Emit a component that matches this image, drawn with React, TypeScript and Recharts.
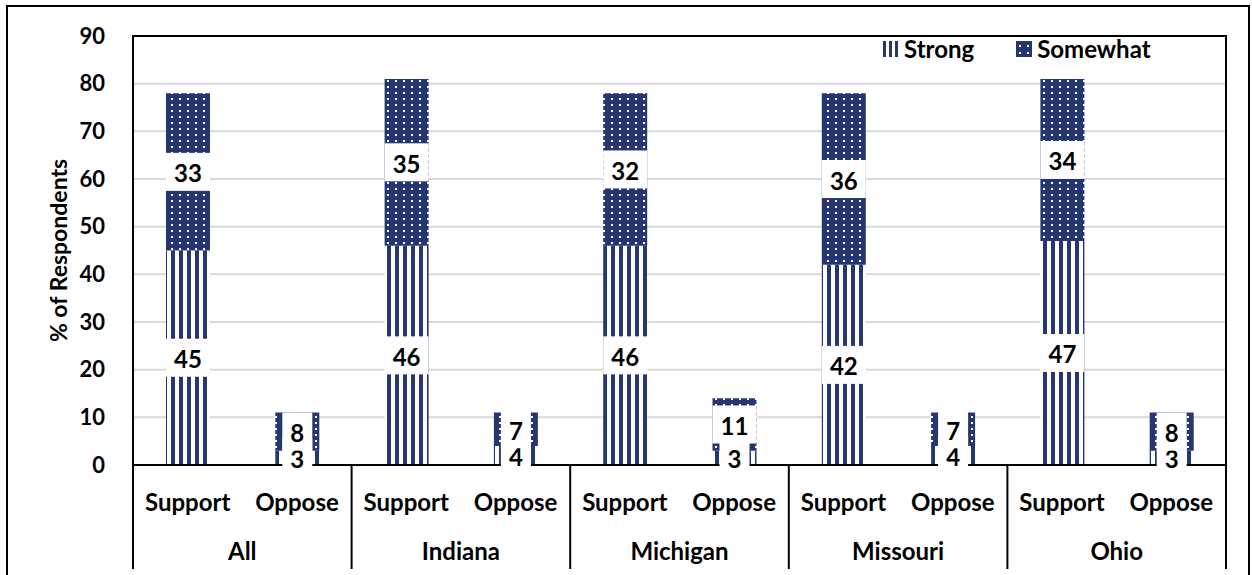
import {
  BarChart,
  Bar,
  XAxis,
  YAxis,
  CartesianGrid,
  Legend,
  LabelList,
  ReferenceArea,
} from "recharts";

const groups = ["All", "Indiana", "Michigan", "Missouri", "Ohio"];
const stances = ["Support", "Oppose"];
const strongPct = [45, 3, 46, 4, 46, 3, 42, 4, 47, 3];
const somewhatPct = [33, 8, 35, 7, 32, 11, 36, 7, 34, 8];
const yTicks = [0, 10, 20, 30, 40, 50, 60, 70, 80, 90];

const NAVY = "#263672";
const FONT = "Lato, 'Open Sans', sans-serif";

const rows = groups.flatMap((group, gi) =>
  stances.map((stance, si) => ({
    key: `${group}-${stance}`,
    group,
    stance,
    strong: strongPct[gi * 2 + si],
    somewhat: somewhatPct[gi * 2 + si],
  }))
);

const CHART_W = 1252;
const CHART_H = 575;
const MARGIN = { top: 36, right: 26, bottom: 5, left: 0 };
const Y_AXIS_W = 133;
const X_AXIS_H = 105;
const BAND = (CHART_W - MARGIN.left - MARGIN.right - Y_AXIS_W) / rows.length;

// two-row category axis: stance on top, state name below, with dividers between states
function StanceTick(props: any) {
  const { x, y, payload } = props;
  const index: number = payload?.index ?? props.index ?? 0;
  const row = rows[index];
  const isFirst = index % 2 === 0;
  const isLast = index === rows.length - 1;
  return (
    <g>
      <text
        x={x}
        y={y + 36}
        textAnchor="middle"
        dominantBaseline="central"
        fontFamily={FONT}
        fontWeight={700}
        fontSize={24}
        fill="#000"
      >
        {row.stance}
      </text>
      {isFirst && (
        <>
          <line x1={x - BAND / 2} x2={x - BAND / 2} y1={y} y2={y + 104} stroke="#000" strokeWidth={2} />
          <text
            x={x + BAND / 2}
            y={y + 85}
            textAnchor="middle"
            dominantBaseline="central"
            fontFamily={FONT}
            fontWeight={700}
            fontSize={24}
            fill="#000"
          >
            {row.group}
          </text>
        </>
      )}
      {isLast && (
        <line x1={x + BAND / 2} x2={x + BAND / 2} y1={y} y2={y + 104} stroke="#000" strokeWidth={2} />
      )}
    </g>
  );
}

// white box behind each value, like a filled data label
function ValueBox(props: any) {
  const { x, y, width, height, value } = props;
  const cx = x + width / 2;
  const cy = y + height / 2;
  const w = String(value).length > 1 ? 44 : 30;
  return (
    <g>
      <rect x={cx - w / 2} y={cy - 19} width={w} height={38} fill="#fff" />
      <text
        x={cx}
        y={cy + 1}
        textAnchor="middle"
        dominantBaseline="central"
        fontFamily={FONT}
        fontWeight={700}
        fontSize={24}
        fill="#000"
      >
        {value}
      </text>
    </g>
  );
}

function YTitle(props: any) {
  const vb = props.viewBox ?? {};
  const cy = (vb.y ?? 36) + (vb.height ?? 429) / 2;
  return (
    <text
      x={58}
      y={cy}
      transform={`rotate(-90, 58, ${cy})`}
      textAnchor="middle"
      dominantBaseline="central"
      fontFamily={FONT}
      fontWeight={700}
      fontSize={23}
      fill="#000"
    >
      % of Respondents
    </text>
  );
}

function LegendBox() {
  return (
    <div
      style={{
        display: "flex",
        alignItems: "center",
        fontFamily: FONT,
        fontWeight: 700,
        fontSize: 24,
        lineHeight: "26px",
        color: "#000",
      }}
    >
      <svg width={16} height={16} style={{ display: "block" }}>
        <rect x={1} y={0} width={3} height={16} fill={NAVY} />
        <rect x={7} y={0} width={3} height={16} fill={NAVY} />
        <rect x={13} y={0} width={3} height={16} fill={NAVY} />
      </svg>
      <span style={{ marginLeft: 6 }}>Strong</span>
      <svg width={16} height={16} style={{ display: "block", marginLeft: 42 }}>
        <rect x={0} y={0} width={16} height={16} fill={NAVY} />
        <rect x={3} y={4} width={2} height={2} fill="#fff" />
        <rect x={11} y={4} width={2} height={2} fill="#fff" />
        <rect x={3} y={11} width={2} height={2} fill="#fff" />
        <rect x={11} y={11} width={2} height={2} fill="#fff" />
      </svg>
      <span style={{ marginLeft: 5 }}>Somewhat</span>
    </div>
  );
}

export default function App() {
  return (
    <div style={{ position: "absolute", left: 0, top: 0, width: CHART_W, height: CHART_H, overflow: "hidden", background: "#fff" }}>
      <div
        style={{
          position: "absolute",
          left: 6,
          top: 5,
          width: 1244,
          height: 575,
          boxSizing: "border-box",
          border: "2px solid #000",
          borderBottom: "none",
        }}
      />
      <div style={{ position: "absolute", left: 0, top: 0 }}>
        <BarChart width={CHART_W} height={CHART_H} data={rows} margin={MARGIN} barSize={44}>
          <defs>
            <pattern id="stripes" width={8} height={8} patternUnits="userSpaceOnUse">
              <rect x={0} y={0} width={8} height={8} fill="#fff" />
              <rect x={3} y={0} width={4} height={8} fill={NAVY} />
            </pattern>
            <pattern id="dots" width={8} height={6} patternUnits="userSpaceOnUse">
              <rect x={0} y={0} width={8} height={6} fill={NAVY} />
              <rect x={3} y={2} width={2} height={2} fill="#fff" />
            </pattern>
          </defs>
          <CartesianGrid vertical={false} stroke="#d9d9d9" strokeWidth={2} />
          <ReferenceArea y1={0} y2={90} fill="none" stroke="#000" strokeWidth={2} />
          <YAxis
            width={Y_AXIS_W}
            domain={[0, 90]}
            ticks={yTicks}
            interval={0}
            tickLine={false}
            tickSize={0}
            tickMargin={28}
            axisLine={{ stroke: "#000", strokeWidth: 2 }}
            tick={{ fill: "#000", fontSize: 22, fontWeight: 700, fontFamily: FONT }}
            label={<YTitle />}
          />
          <XAxis
            dataKey="key"
            interval={0}
            height={X_AXIS_H}
            tickLine={false}
            tickSize={0}
            tickMargin={0}
            axisLine={{ stroke: "#000", strokeWidth: 2 }}
            tick={<StanceTick />}
          />
          <Legend
            layout="horizontal"
            verticalAlign="middle"
            align="center"
            wrapperStyle={{ position: "absolute", top: 36, left: 882, width: 320 }}
            content={<LegendBox />}
          />
          <Bar dataKey="strong" stackId="a" fill="url(#stripes)" isAnimationActive={false} name="Strong">
            <LabelList dataKey="strong" content={<ValueBox />} />
          </Bar>
          <Bar dataKey="somewhat" stackId="a" fill="url(#dots)" isAnimationActive={false} name="Somewhat">
            <LabelList dataKey="somewhat" content={<ValueBox />} />
          </Bar>
        </BarChart>
      </div>
    </div>
  );
}
